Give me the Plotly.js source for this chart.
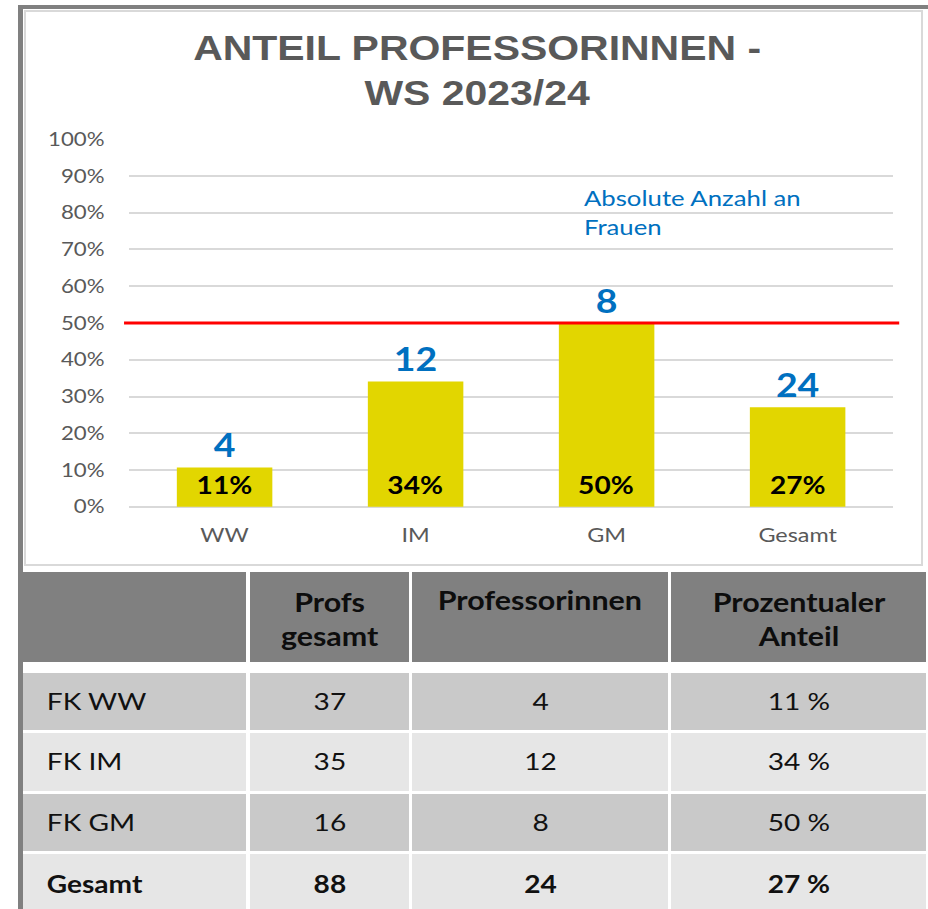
<!DOCTYPE html>
<html><head><meta charset="utf-8">
<script src="https://cdn.plot.ly/plotly-3.0.1.min.js"></script>
<style>
html,body{margin:0;padding:0;background:#fff;width:928px;height:909px;overflow:hidden;}
#stretch{position:absolute;left:0;top:0;width:793px;height:909px;transform-origin:0 0;z-index:1;}
.frame{position:absolute;z-index:2;background:#808080;}
</style></head><body>
<div class="frame" style="left:18px;top:5px;width:910px;height:4px;"></div>
<div class="frame" style="left:18px;top:5px;width:5px;height:904px;"></div>
<div style="position:absolute;left:24px;top:10px;width:899px;height:556px;border:2px solid #d9d9d9;box-sizing:border-box;z-index:0"></div>
<div id="stretch"><div id="chart" style="width:793px;height:909px"></div></div>
<script>
// ---- data ----
const categories = ['WW', 'IM', 'GM', 'Gesamt'];
const shareWomen = [0.107, 0.341, 0.50, 0.271];
const countWomen = [4, 12, 8, 24];
const targetShare = 0.5;
const noteText = 'Absolute Anzahl an<br>Frauen';
const titleText = 'ANTEIL PROFESSORINNEN -<br>WS 2023/24';

const tableHeader = ['', 'Profs<br>gesamt', 'Professorinnen', 'Prozentualer<br>Anteil'];
const tableRowLabels = ['FK WW', 'FK IM', 'FK GM', 'Gesamt'];
const profsTotal = [37, 35, 16, 88];
const professorinnen = [4, 12, 8, 24];
const shareText = ['11 %', '34 %', '50 %', '27 %'];

// ---- geometry (unstretched px) ----
const W = 793, H = 909, SX = 928 / 793;
const px = x => x / W, py = y => 1 - y / H;
const FONT = 'Lato, "Open Sans", sans-serif';
const blue = '#0070C0', grey = '#595959';

// column edges (picture px, divided by the horizontal stretch)
const colEdges = [18, 248, 411, 670, 930].map(x => Math.min(x / SX, W));
const colWidths = colEdges.slice(1).map((e, j) => e - colEdges[j]);
const tableX0 = colEdges[0], tableX1 = colEdges[colEdges.length - 1];
const headerTop = 570, headerH = 93, bodyTop = 671, rowH = 60.5;
const rowFill = ['#c9c9c9', '#e6e6e6', '#c9c9c9', '#e6e6e6'];
const colCenter = j => (colEdges[j] + colEdges[j + 1]) / 2;

const bars = {
  type: 'bar', x: categories, y: shareWomen,
  marker: {color: '#E2D600'},
  text: countWomen.map(String), textposition: 'outside', cliponaxis: false,
  textfont: {family: FONT, size: 32, color: blue, weight: 700},
  hoverinfo: 'skip', showlegend: false
};

const headerTable = {
  type: 'table',
  domain: {x: [px(tableX0), px(tableX1)], y: [py(headerTop + headerH), py(headerTop)]},
  columnwidth: colWidths,
  header: {
    values: tableHeader.map(() => ''),
    fill: {color: '#808080'},
    line: {color: '#ffffff', width: 3},
    height: headerH
  },
  cells: {values: [[], [], [], []]}
};

const bodyTable = {
  type: 'table',
  domain: {x: [px(tableX0), px(tableX1)], y: [0, py(bodyTop)]},
  columnwidth: colWidths,
  header: {
    values: colWidths.map(() => tableRowLabels.map(() => '')),
    fill: {color: colWidths.map(() => rowFill)},
    line: {color: '#ffffff', width: 3},
    height: rowH
  },
  cells: {values: [[], [], [], []]}
};

const annotations = categories.map((c, i) => ({
  x: c, y: 0, xref: 'x', yref: 'y', yshift: 22, yanchor: 'middle',
  text: Math.round(shareWomen[i] * 100) + '%', showarrow: false,
  font: {family: FONT, size: 24, color: '#000000', weight: 700}
}));
annotations.push({
  xref: 'paper', yref: 'paper', x: px(497.4), y: py(212), xanchor: 'left', yanchor: 'middle',
  align: 'left', text: noteText, showarrow: false,
  font: {family: FONT, size: 22, color: blue}
});

// table header text
tableHeader.forEach((t, j) => {
  if (!t) return;
  const twoLines = t.indexOf('<br>') >= 0;
  annotations.push({
    xref: 'paper', yref: 'paper', x: px(colCenter(j)), y: py(twoLines ? 619 : 600),
    xanchor: 'center', yanchor: 'middle', align: 'center', showarrow: false, text: t,
    font: {family: FONT, size: 26, color: '#0d0d0d', weight: 700}
  });
});

// table body text
const bodyCols = [tableRowLabels, profsTotal, professorinnen, shareText];
bodyCols.forEach((col, j) => {
  col.forEach((v, i) => {
    const last = i === tableRowLabels.length - 1;
    annotations.push({
      xref: 'paper', yref: 'paper',
      x: j === 0 ? px(44 / SX) : px(colCenter(j)),
      y: py(bodyTop + i * rowH + 29 + (last ? 2 : 0)),
      xanchor: j === 0 ? 'left' : 'center', yanchor: 'middle', showarrow: false,
      text: String(v),
      font: {family: FONT, size: 24, color: '#111111', weight: last ? 700 : 400}
    });
  });
});

const layout = {
  width: W, height: H,
  margin: {l: 0, r: 0, t: 0, b: 0},
  paper_bgcolor: 'rgba(0,0,0,0)', plot_bgcolor: 'rgba(0,0,0,0)',
  showlegend: false, bargap: 0.5,
  title: {
    text: titleText, x: px(407.7), xanchor: 'center', xref: 'container',
    y: py(60), yref: 'container', yanchor: 'middle',
    font: {family: '"Liberation Sans", Arial, sans-serif', size: 35, color: grey, weight: 700}
  },
  xaxis: {
    domain: [px(110.3), px(763.2)], type: 'category',
    showgrid: false, zeroline: false, showline: false, ticks: '',
    ticklabelstandoff: 14,
    tickfont: {family: FONT, size: 20, color: grey}
  },
  yaxis: {
    domain: [py(507), py(139)], range: [-0.0005, 1.0005],
    dtick: 0.1, tick0: 0, tickformat: '.0%',
    showgrid: true, gridcolor: '#d9d9d9', gridwidth: 2,
    zeroline: true, zerolinecolor: '#d9d9d9', zerolinewidth: 2,
    showline: false, ticks: '', ticklabelstandoff: 20,
    tickfont: {family: FONT, size: 19, color: grey}
  },
  shapes: [{
    type: 'line', xref: 'paper', yref: 'y', x0: px(106), x1: px(768.4),
    y0: targetShare, y1: targetShare, layer: 'above',
    line: {color: '#FF0000', width: 3}
  }],
  annotations: annotations
};

Plotly.newPlot('chart', [bars, headerTable, bodyTable], layout, {staticPlot: true, displayModeBar: false})
  .then(() => { document.getElementById('stretch').style.transform = 'scaleX(' + SX + ')'; });
</script>
</body></html>
